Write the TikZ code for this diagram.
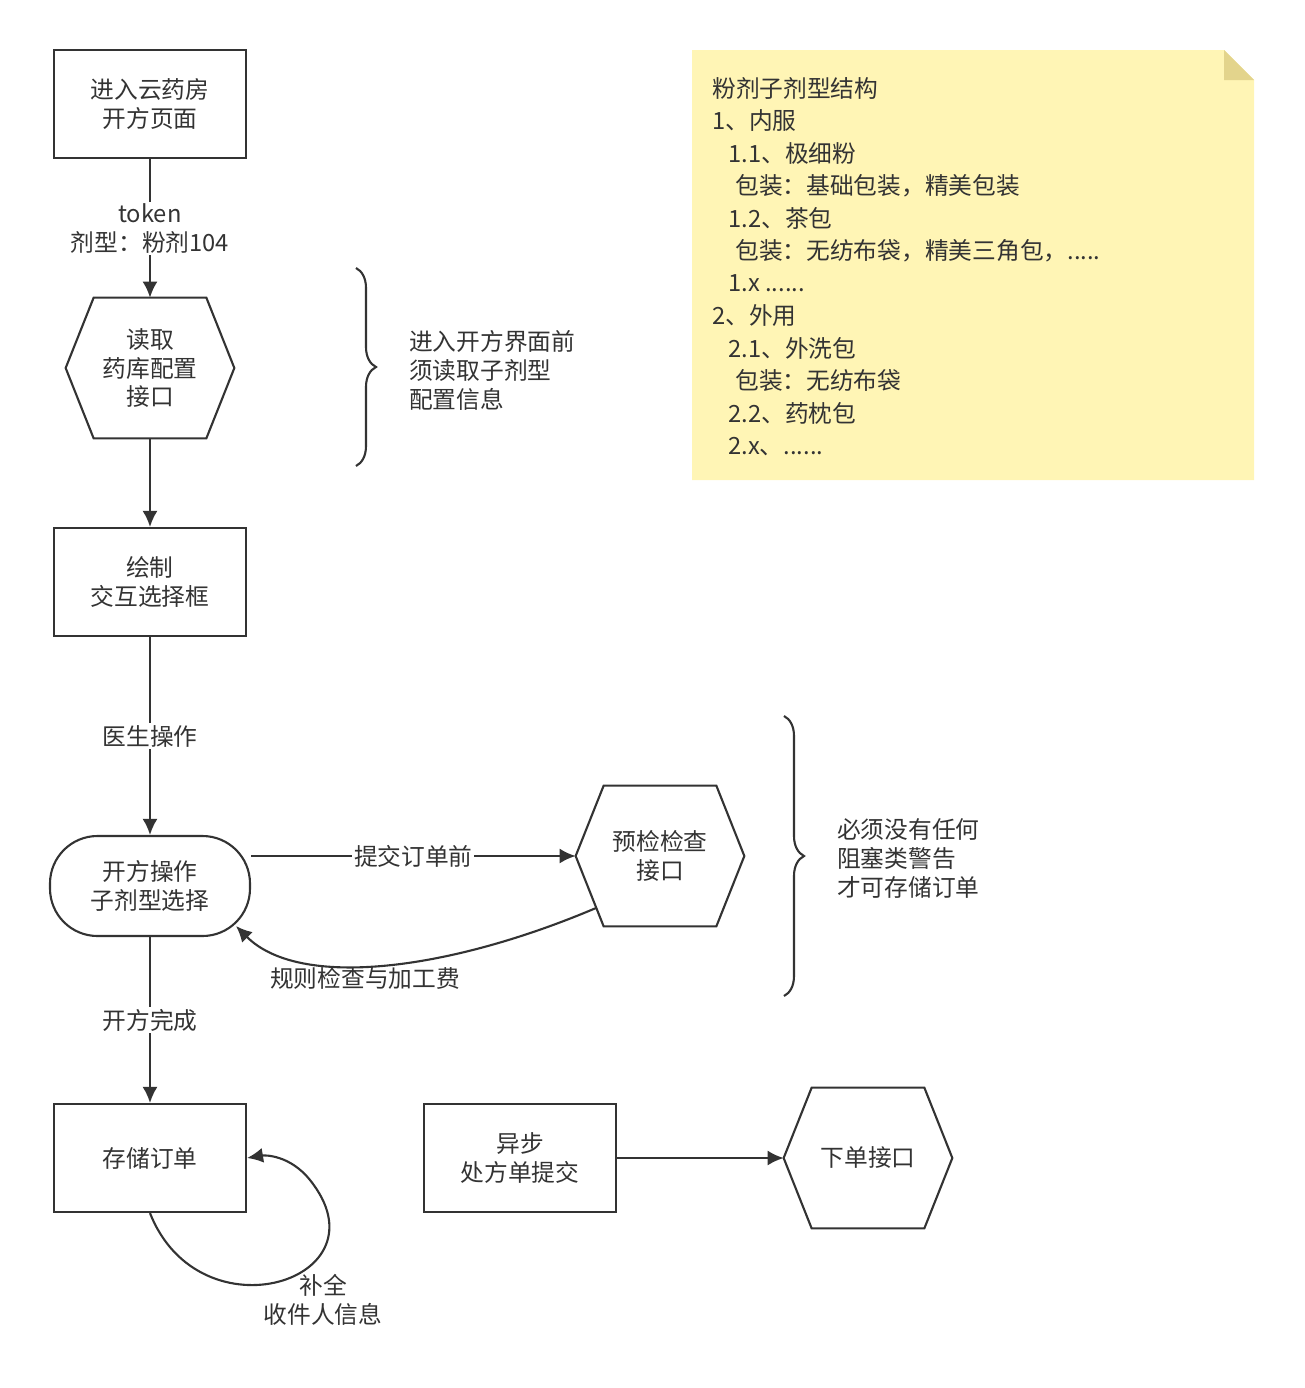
\documentclass[tikz,border=0pt]{standalone}
\usepackage{fontspec}
\setmainfont{Noto Sans CJK SC}
\usetikzlibrary{positioning,calc,arrows.meta,decorations.pathreplacing}
\definecolor{ink}{HTML}{333333}
\definecolor{notebg}{HTML}{FFF5B5}
\definecolor{notefold}{HTML}{E3D48C}
\newcommand{\sixdots}{......}
\newcommand{\fivedots}{.....}
\tikzset{
  every node/.style={font=\fontsize{13.5}{16.5}\selectfont,text=ink},
  procbox/.style={draw=ink,line width=1.2pt,minimum width=3.84cm,minimum height=2.16cm,align=center},
  hexbox/.style={minimum width=3.36cm,minimum height=2.8cm,align=center},
  roundbox/.style={draw=ink,line width=1.2pt,rounded corners=0.95cm,minimum width=4cm,minimum height=2cm,align=center},
  flow/.style={draw=ink,line width=1.2pt,-{Latex[length=0.32cm,width=0.3cm]}},
  lbl/.style={fill=white,inner sep=1pt,align=center},
  bracestyle/.style={draw=ink,line width=1.2pt,decorate,decoration={brace,amplitude=0.4cm}}
}
\newcommand{\hexa}[1]{\draw[ink,line width=1.2pt] (#1.west) -- ([xshift=0.56cm]#1.north west) -- ([xshift=-0.56cm]#1.north east) -- (#1.east) -- ([xshift=-0.56cm]#1.south east) -- ([xshift=0.56cm]#1.south west) -- cycle;}
\begin{document}
\begin{tikzpicture}
\useasboundingbox (0,0) rectangle (26.08,-27.76);
% sticky note
\fill[notebg] (13.84,-1) -- (24.48,-1) -- (25.08,-1.6) -- (25.08,-9.6) -- (13.84,-9.6) -- cycle;
\fill[notefold] (24.48,-1) -- (25.08,-1.6) -- (24.48,-1.6) -- cycle;
\foreach \i/\x/\t in {1/14.24/粉剂子剂型结构, 2/14.24/1、内服, 3/14.56/1.1、极细粉, 4/14.7/包装：基础包装，精美包装,
  5/14.56/1.2、茶包, 6/14.7/包装：无纺布袋，精美三角包，\fivedots, 7/14.56/1.x \sixdots, 8/14.24/2、外用,
  9/14.56/2.1、外洗包, 10/14.7/包装：无纺布袋, 11/14.56/2.2、药枕包, 12/14.56/2.x、\sixdots}
  \node[anchor=west,inner sep=0] (n\i) at (\x,{-1.76-0.651*(\i-1)}) {\t};
% flow
\node[procbox] (start) at (3,-2.08) {进入云药房\\开方页面};
\node[hexbox] (read) at (3,-7.36) {读取\\药库配置\\接口};
\hexa{read}
\node[procbox] (draw) at (3,-11.64) {绘制\\交互选择框};
\node[roundbox] (op) at (3,-17.72) {开方操作\\子剂型选择};
\node[hexbox] (check) at (13.2,-17.12) {预检检查\\接口};
\hexa{check}
\node[procbox] (save) at (3,-23.16) {存储订单};
\node[procbox] (async) at (10.4,-23.16) {异步\\处方单提交};
\node[hexbox] (order) at (17.36,-23.16) {下单接口};
\hexa{order}
\draw[flow] (start) -- node[lbl] {token\\剂型：粉剂104} (read);
\draw[flow] (read) -- (draw);
\draw[flow] (draw) -- node[lbl] {医生操作} (op);
\draw[flow] (op.east |- check) -- node[lbl] {提交订单前} (check.west);
\coordinate (back) at (11.92,-18.16);
\draw[flow] (back) .. controls (9,-19.4) and (6,-19.8) .. (4.72,-18.52);
\node (rule) at (7.3,-19.56) {规则检查与加工费};
\draw[flow] (op) -- node[lbl] {开方完成} (save);
\draw[flow] (save.south) .. controls (4,-26.8) and (7.8,-25.6) .. (6.2,-23.6) .. controls (5.8,-23.1) and (5.3,-23.1) .. (save.east);
\node[align=center] (fill) at (6.46,-26) {补全\\收件人信息};
\draw[flow] (async) -- (order);
% braces
\draw[bracestyle] (7.12,-5.36) -- (7.12,-9.32);
\node[anchor=west,align=left] (note1) at (8.06,-7.4) {进入开方界面前\\须读取子剂型\\配置信息};
\draw[bracestyle] (15.68,-14.32) -- (15.68,-19.92);
\node[anchor=west,align=left] (note2) at (16.62,-17.16) {必须没有任何\\阻塞类警告\\才可存储订单};
\end{tikzpicture}
\end{document}
